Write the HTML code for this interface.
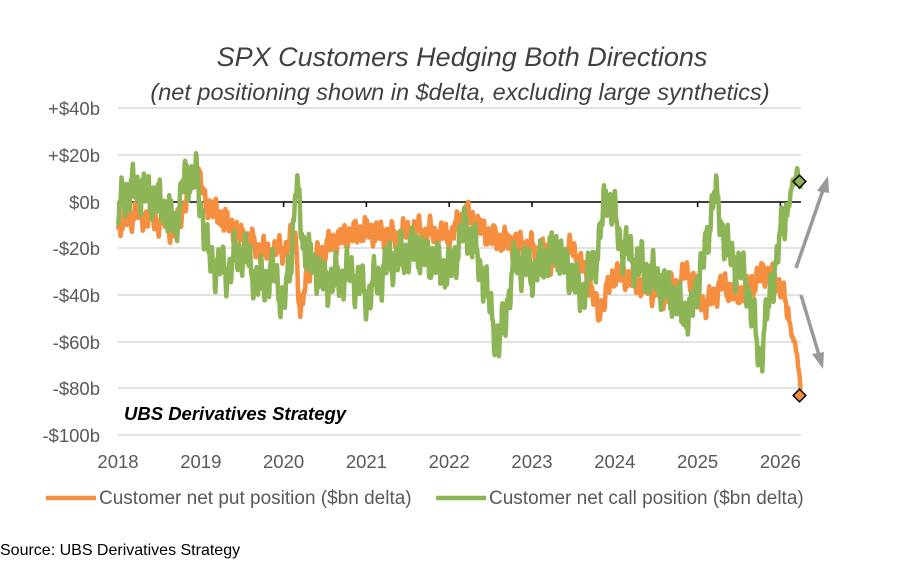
<!DOCTYPE html>
<html><head><style>
body{margin:0;background:#fff;width:899px;height:566px;overflow:hidden;font-family:"Liberation Sans",sans-serif}
</style></head><body>
<svg id="s" width="899" height="566" xmlns="http://www.w3.org/2000/svg" font-family="Liberation Sans, sans-serif">
<text x="462" y="66" text-anchor="middle" font-size="27" font-style="italic" fill="#404040">SPX Customers Hedging Both Directions</text>
<text x="460" y="100" text-anchor="middle" font-size="23.5" font-style="italic" fill="#404040">(net positioning shown in $delta, excluding large synthetics)</text>
<g stroke="#d9d9d9" stroke-width="1.5">
<line x1="118" x2="801" y1="108" y2="108"/><line x1="118" x2="801" y1="155" y2="155"/>
<line x1="118" x2="801" y1="248" y2="248"/><line x1="118" x2="801" y1="295" y2="295"/>
<line x1="118" x2="801" y1="342" y2="342"/><line x1="118" x2="801" y1="388" y2="388"/>
<line x1="118" x2="801" y1="435" y2="435"/>
</g>
<g font-size="18.5" fill="#595959" text-anchor="end">
<text x="100" y="115">+$40b</text><text x="100" y="162">+$20b</text><text x="100" y="209">$0b</text>
<text x="100" y="255">-$20b</text><text x="100" y="302">-$40b</text><text x="100" y="349">-$60b</text>
<text x="100" y="395">-$80b</text><text x="100" y="442">-$100b</text>
</g>
<g font-size="18.5" fill="#595959" text-anchor="middle" id="xl"></g>
<line x1="118" x2="801" y1="202" y2="202" stroke="#000" stroke-width="1.5"/>
<g id="tk" stroke="#000" stroke-width="1.5"></g>
<polyline id="put" fill="none" stroke="#f58f3f" stroke-width="4.5" stroke-linejoin="round"/>
<polyline id="call" fill="none" stroke="#8db556" stroke-width="4.5" stroke-linejoin="round"/>
<rect x="795" y="177" width="9" height="9" transform="rotate(45 799.5 181.5)" fill="#8db556" stroke="#000" stroke-width="1.5"/>
<rect x="795" y="391" width="9" height="9" transform="rotate(45 799.5 395.5)" fill="#f58f3f" stroke="#000" stroke-width="1.5"/>
<g stroke="#999" stroke-width="3.5" fill="#999">
<line x1="796" y1="268" x2="823" y2="190"/><polygon points="828,176 817,191 829,193" stroke="none"/>
<line x1="801" y1="295" x2="819" y2="355"/><polygon points="823,369 812,354 824,352" stroke="none"/>
</g>
<text x="124" y="420" font-size="18.5" font-weight="bold" font-style="italic" fill="#000">UBS Derivatives Strategy</text>
<line x1="46" x2="96" y1="498" y2="498" stroke="#f58f3f" stroke-width="4.5"/>
<text x="99" y="504" font-size="19" fill="#595959">Customer net put position ($bn delta)</text>
<line x1="436" x2="486" y1="498" y2="498" stroke="#8db556" stroke-width="4.5"/>
<text x="489" y="504" font-size="19" fill="#595959">Customer net call position ($bn delta)</text>
<text x="0" y="555" font-size="16" fill="#000">Source: UBS Derivatives Strategy</text>
</svg>
<script>
var X=function(t){return 118+(t-2018)*82.8},Y=function(v){return 202-v*2.335};
var xl=document.getElementById('xl'),tk=document.getElementById('tk'),ns='http://www.w3.org/2000/svg';
for(var yr=2018;yr<=2026;yr++){var t=document.createElementNS(ns,'text');t.setAttribute('x',X(yr));t.setAttribute('y',468);t.textContent=yr;xl.appendChild(t);
var l=document.createElementNS(ns,'line');l.setAttribute('x1',X(yr));l.setAttribute('x2',X(yr));l.setAttribute('y1',202);l.setAttribute('y2',207);tk.appendChild(l);}
function gen(a,seed,amp){var pts=[];for(var t=2018;t<=a[a.length-2];t+=0.006){var i=0;while(i<a.length-2&&a[i+2]<t)i+=2;var t0=a[i],v0=a[i+1],t1=a[i+2]||t0+1,v1=a[i+3]!==undefined?a[i+3]:v0;var f=(t-t0)/(t1-t0);f=Math.max(0,Math.min(1,f));var v=v0+(v1-v0)*f;
var n=Math.sin(t*97+seed)*amp*0.5+Math.sin(t*231+seed*2)*amp*0.35+Math.sin(t*41+seed*3)*amp*0.4;if(t>2026.1)n*=0.3;pts.push(X(t).toFixed(1)+','+Y(v+n).toFixed(1));}return pts.join(' ');}
var put=[2018,-10,2018.2,-5,2018.5,-8,2018.7,-12,2018.85,5,2018.95,15,2019.05,0,2019.2,-5,2019.5,-15,2019.8,-22,2020,-20,2020.15,-15,2020.2,-50,2020.3,-28,2020.5,-20,2020.7,-15,2021,-12,2021.3,-15,2021.6,-12,2022,-15,2022.2,-5,2022.5,-15,2022.8,-18,2023,-20,2023.3,-25,2023.5,-20,2023.7,-35,2023.8,-48,2024,-30,2024.3,-35,2024.6,-40,2024.9,-30,2025.1,-45,2025.3,-35,2025.5,-40,2025.8,-30,2026,-35,2026.1,-50,2026.2,-65,2026.25,-83];
var call=[2018,-5,2018.1,5,2018.3,5,2018.5,0,2018.7,-10,2018.8,10,2018.95,10,2019.1,-25,2019.3,-30,2019.5,-20,2019.7,-35,2019.9,-30,2020,-45,2020.1,-20,2020.15,8,2020.25,-20,2020.5,-35,2020.8,-30,2021,-40,2021.3,-25,2021.6,-20,2022,-30,2022.2,-10,2022.4,-30,2022.6,-62,2022.8,-25,2023,-30,2023.3,-20,2023.6,-40,2023.8,-20,2023.9,5,2024.1,-20,2024.4,-30,2024.7,-40,2024.9,-50,2025.1,-20,2025.2,5,2025.35,-20,2025.6,-35,2025.75,-68,2025.9,-35,2026,-15,2026.1,0,2026.2,13,2026.25,8];
document.getElementById('put').setAttribute('points',gen(put,1,6));
document.getElementById('call').setAttribute('points',gen(call,4,10));
</script>
</body></html>
